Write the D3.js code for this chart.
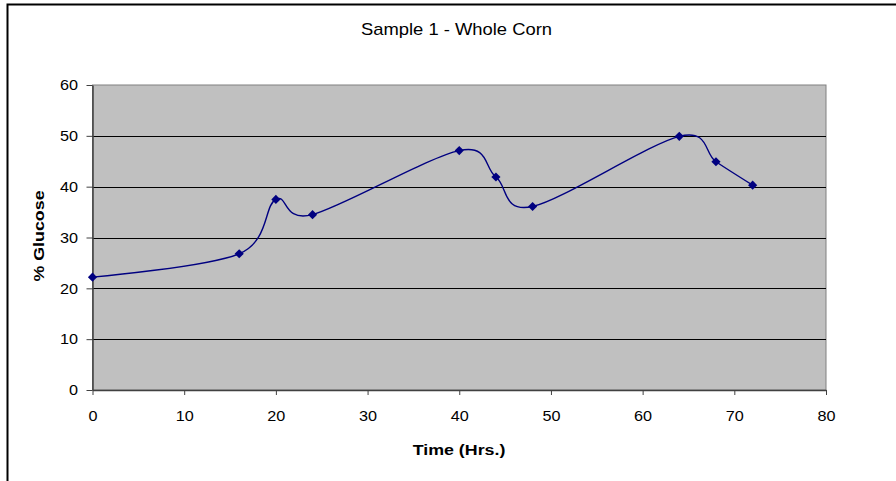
<!DOCTYPE html>
<html>
<head>
<meta charset="utf-8">
<script src="https://cdn.jsdelivr.net/npm/d3@7"></script>
<style>
  body { margin: 0; background: #fff; }
  text { font-family: "Liberation Sans", Arial, sans-serif; fill: #000; }
</style>
</head>
<body>
<div class="container"></div>
<script>
// hours and % glucose
const hours = [0, 16, 20, 24, 40, 44, 48, 64, 68, 72];
const glucose = [22.2, 26.8, 37.5, 34.5, 47.1, 41.9, 36.1, 49.9, 44.9, 40.3];
const xTicks = [0, 10, 20, 30, 40, 50, 60, 70, 80];
const yTicks = [0, 10, 20, 30, 40, 50, 60];

const chartTitle = "Sample 1 - Whole Corn";
const xTitle = "Time (Hrs.)";
const yTitle = "% Glucose";

var viewWidth = 896;
var viewHeight = 481;

// plot area as excel drew it
var plot = { left: 92.5, right: 826, top: 85, bottom: 390 };

// the original screenshot looks a bit wider than tall, so text gets a little x-stretch
var stretch = 1.15;
var tickStretch = 1.08;

const xScale = d3.scaleLinear()
    .domain([0, 80])
    .range([plot.left, plot.right]);

const yScale = d3.scaleLinear()
    .domain([0, 60])
    .range([plot.bottom, plot.top]);

var points = hours.map(function (h, i) { return [h, glucose[i]]; });

var svg = d3.select('.container')
    .append('svg')
    .attr('width', viewWidth)
    .attr('height', viewHeight);

// outer chart frame (only left and top show in the screenshot)
svg.append('rect')
    .attr('x', 7.5)
    .attr('y', 4.5)
    .attr('width', viewWidth + 20)
    .attr('height', viewHeight + 20)
    .attr('fill', '#fff')
    .attr('stroke', '#000')
    .attr('stroke-width', 2);

// grey plot background with a thin grey border
svg.append('rect')
    .attr('x', plot.left)
    .attr('y', plot.top)
    .attr('width', plot.right - plot.left)
    .attr('height', plot.bottom - plot.top)
    .attr('fill', '#c0c0c0')
    .attr('stroke', '#808080')
    .attr('stroke-width', 1);

// horizontal gridlines
svg.append('g')
    .selectAll('line')
    .data(yTicks.filter(function (d) { return d > 0 && d < 60; }))
    .enter()
    .append('line')
    .attr('x1', plot.left)
    .attr('x2', plot.right)
    .attr('y1', function (d) { return Math.round(yScale(d)) + 0.5; })
    .attr('y2', function (d) { return Math.round(yScale(d)) + 0.5; })
    .attr('stroke', '#000')
    .attr('stroke-width', 1);

var xAxis = d3.axisBottom(xScale)
    .tickValues(xTicks)
    .tickSizeInner(5)
    .tickSizeOuter(0)
    .tickPadding(15);

var yAxis = d3.axisLeft(yScale)
    .tickValues(yTicks)
    .tickSizeInner(6)
    .tickSizeOuter(0)
    .tickPadding(9);

var gx = svg.append('g')
    .attr('transform', "translate(0, " + plot.bottom + ")")
    .call(xAxis);

var gy = svg.append('g')
    .attr('transform', "translate(" + plot.left + ", 0)")
    .call(yAxis);

[gx, gy].forEach(function (g) {
    g.select('.domain').attr('stroke', '#404040').attr('stroke-width', 1.5);
    g.selectAll('.tick line').attr('stroke', '#404040');
    g.selectAll('.tick text')
        .attr('font-size', 15)
        .attr('font-family', '"Liberation Sans", Arial, sans-serif')
        .attr('fill', '#000')
        .attr('transform', "scale(" + tickStretch + ",1)");
});

// y labels: right edge should sit about 14px left of the axis
gy.selectAll('.tick text')
    .attr('x', -14.5 / tickStretch);

// smoothed series line (excel smoothing is close to uniform catmull-rom)
var line = d3.line()
    .x(function (d) { return xScale(d[0]); })
    .y(function (d) { return yScale(d[1]); })
    .curve(d3.curveCatmullRom.alpha(0));

svg.append('path')
    .datum(points)
    .attr('d', line)
    .attr('fill', 'none')
    .attr('stroke', '#000080')
    .attr('stroke-width', 1.4);

// diamond markers
svg.append('g')
    .selectAll('path')
    .data(points)
    .enter()
    .append('path')
    .attr('d', d3.symbol().type(d3.symbolSquare).size(42))
    .attr('transform', function (d) {
        return "translate(" + xScale(d[0]) + "," + yScale(d[1]) + ") rotate(45)";
    })
    .attr('fill', '#000080');

function label(txt, x, y, size, weight, rotate) {
    svg.append('text')
        .attr('transform', "translate(" + x + "," + y + ")" +
            (rotate ? " rotate(" + rotate + ")" : "") +
            " scale(" + stretch + ",1)")
        .attr('text-anchor', 'middle')
        .attr('font-size', size)
        .attr('font-weight', weight)
        .text(txt);
}

label(chartTitle, 456.5, 34.5, 16, 'normal');
label(xTitle, 459, 455, 15.5, 'bold');
label(yTitle, 44, 236, 15.5, 'bold', -90);
</script>
</body>
</html>
